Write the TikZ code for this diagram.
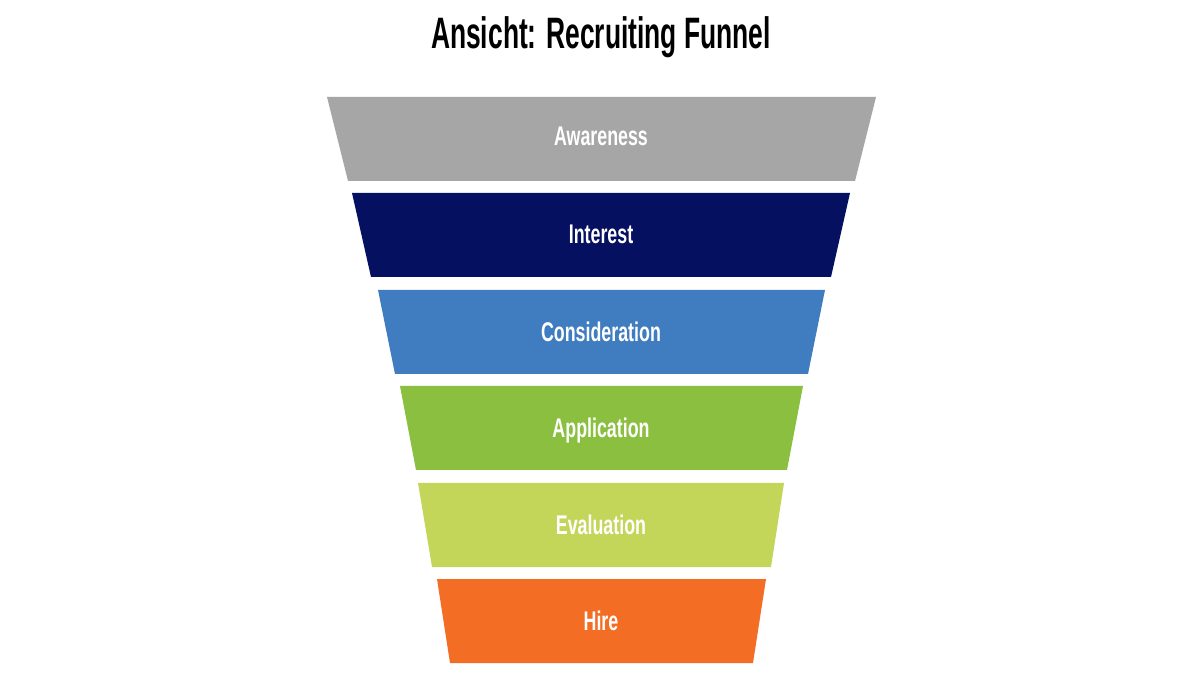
\documentclass[tikz,border=0pt]{standalone}
\usepackage{fontspec}
\newfontfamily\condfont[FakeStretch=0.6]{Liberation Sans Bold}
\newfontfamily\labfont[FakeStretch=0.66]{Liberation Sans Bold}
\definecolor{cgray}{HTML}{A6A6A6}
\definecolor{cnavy}{HTML}{061060}
\definecolor{cblue}{HTML}{3F7DC0}
\definecolor{cgreen}{HTML}{8BBF40}
\definecolor{clime}{HTML}{C3D65A}
\definecolor{corange}{HTML}{F36D24}
\begin{document}
\begin{tikzpicture}[x=1pt,y=-1pt,
  lab/.style={text=white,font=\labfont\fontsize{27}{30}\selectfont,anchor=base,inner sep=0pt},
  ttl/.style={text=black,font=\condfont\fontsize{44}{48}\selectfont,anchor=base,inner sep=0pt}]
\useasboundingbox (0,0) rectangle (1200,700);
\fill[white] (0,0) rectangle (1200,700);
\node[ttl] (title) at (601,49) {Ansicht: Recruiting Funnel};
% trapezoids: top y, bottom y, top left, top right, bottom left, bottom right
\fill[cgray]   (327,97)  -- (876,97)  -- (855,181) -- (348,181) -- cycle;
\fill[cnavy]   (352,193) -- (850,193) -- (831,277) -- (371,277) -- cycle;
\fill[cblue]   (378,290) -- (825,290) -- (808,374) -- (395,374) -- cycle;
\fill[cgreen]  (400,386) -- (803,386) -- (787,470) -- (416,470) -- cycle;
\fill[clime]   (418,483) -- (784,483) -- (771,567) -- (432,567) -- cycle;
\fill[corange] (437,579) -- (766,579) -- (753,663) -- (450,663) -- cycle;
\node[lab] (awareness) at (601,146) {Awareness};
\node[lab] (interest) at (601,244) {Interest};
\node[lab] (consideration) at (601,342) {Consideration};
\node[lab] (application) at (601,438) {Application};
\node[lab] (evaluation) at (601,534) {Evaluation};
\node[lab] (hire) at (601,630) {Hire};
\end{tikzpicture}
\end{document}
